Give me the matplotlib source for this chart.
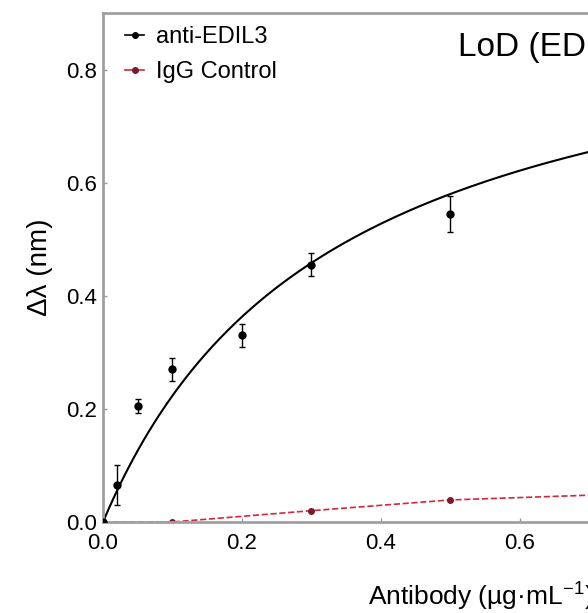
import numpy as np
import matplotlib.pyplot as plt
from matplotlib.lines import Line2D

plt.rcParams['font.family'] = ['Liberation Sans', 'DejaVu Sans']
plt.rcParams['mathtext.default'] = 'regular'

# anti-EDIL3 measurements
edil_x = [0.0, 0.02, 0.05, 0.1, 0.2, 0.3, 0.5, 0.75, 1.0]
edil_y = [0.0, 0.065, 0.205, 0.27, 0.33, 0.455, 0.545, 0.66, 0.72]
edil_err = [0.0, 0.035, 0.012, 0.02, 0.02, 0.02, 0.032, 0.03, 0.03]

# IgG control
igg_x = [0.0, 0.1, 0.3, 0.5, 1.0]
igg_y = [0.0, 0.0, 0.02, 0.039, 0.06]

# fitted binding curve (one-site)
bmax = 0.965
kd = 0.332

red = '#d0283c'
dark_red = '#7a1a2a'

fig = plt.figure(figsize=(5.88, 6.13), dpi=100)
ax = fig.add_axes([103/588, 91/613, 764/588, 509/613])

xf = np.linspace(0, 1.1, 300)
ax.plot(xf, bmax*xf/(kd+xf), color='black', lw=1.5, zorder=2)

ax.errorbar(edil_x, edil_y, yerr=edil_err, fmt='o', color='black', ms=5,
            elinewidth=1, capsize=2, capthick=1, zorder=3)
ax.plot(igg_x, igg_y, '--', color=red, lw=1.2, marker='o', ms=4,
        markerfacecolor=dark_red, markeredgecolor=dark_red)

ax.set_xlim(0, 1.1)
ax.set_ylim(0, 0.9)
ax.set_xticks([0.0, 0.2, 0.4, 0.6, 0.8, 1.0])
ax.set_yticks([0.0, 0.2, 0.4, 0.6, 0.8])
ax.tick_params(direction='in', length=3, width=1, color='#999999', labelsize=16)
ax.tick_params(axis='x', pad=8)
ax.tick_params(axis='y', pad=4)

for s in ax.spines.values():
    s.set_color('#a0a0a0')
    s.set_linewidth(2)

ax.set_ylabel('Δλ (nm)', fontsize=20, labelpad=10)
ax.set_xlabel('Antibody (µg·mL$^{-1}$)', fontsize=19, ha='left')
ax.xaxis.set_label_coords(265/764, -0.115)

ax.text(0.465, 0.962, 'LoD (EDIL3)', transform=ax.transAxes, fontsize=24,
        ha='left', va='top')

handles = [
    Line2D([], [], color='black', lw=1.2, marker='o', ms=4),
    Line2D([], [], color=red, lw=1.2, marker='o', ms=4,
           markerfacecolor=dark_red, markeredgecolor=dark_red),
]
ax.legend(handles, ['anti-EDIL3', 'IgG Control'], loc='upper left',
          frameon=False, fontsize=17, handlelength=0.8,
          handletextpad=0.5, borderaxespad=0.25, borderpad=0.3,
          labelspacing=0.55, bbox_to_anchor=(0.012, 1.0))

fig.savefig('out.png', dpi=100)
